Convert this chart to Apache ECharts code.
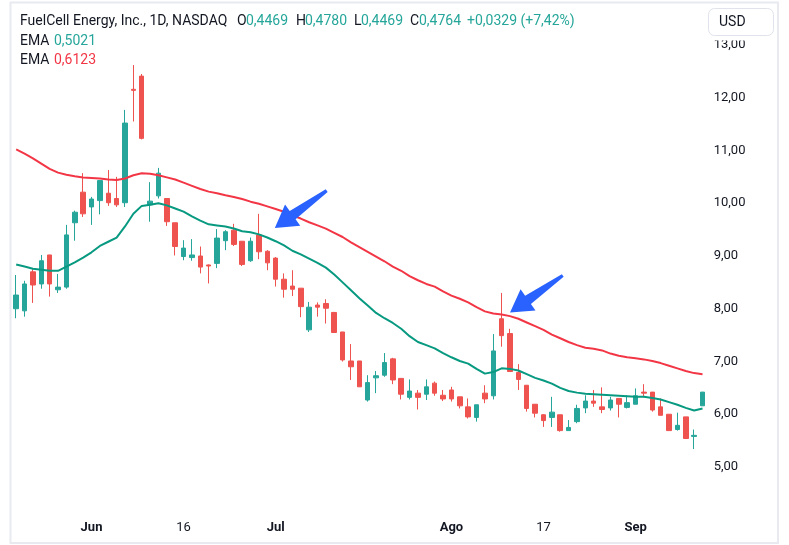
<!DOCTYPE html>
<html>
<head>
<meta charset="utf-8">
<script src="https://cdn.jsdelivr.net/npm/echarts@6/dist/echarts.min.js"></script>
<style>
  html, body { margin: 0; padding: 0; background: #fff; }
  #chart { width: 789px; height: 545px; }
</style>
</head>
<body>
<div id="chart"></div>
<script>
// daily candles
const opens = [8.00, 7.96, 8.70, 8.47, 9.02, 8.36, 8.41, 9.63, 10.21, 9.93,
  10.05, 10.19, 10.09, 10.01, 12.16, 12.41, 9.97, 10.14, 10.09, 9.63,
  8.99, 8.97, 9.00, 8.83, 8.86, 9.29, 9.49, 9.28, 8.91, 9.40,
  9.09, 8.96, 8.56, 8.43, 8.39, 7.60, 8.07, 8.10, 7.93, 7.56,
  7.01, 7.01, 6.27, 6.69, 6.74, 7.05, 6.68, 6.32, 6.40, 6.38,
  6.59, 6.36, 6.46, 6.33, 6.14, 5.94, 6.40, 6.35, 7.81, 7.53,
  6.79, 6.55, 6.19, 5.99, 5.94, 5.99, 5.69, 5.86, 6.12, 6.25,
  6.14, 6.12, 6.30, 6.13, 6.19, 6.42, 6.42, 6.14, 6.00, 5.71,
  5.95, 5.58, 6.16]
const closes = [8.26, 8.47, 8.45, 8.91, 8.47, 8.41, 9.40, 9.83, 9.80, 10.08,
  10.43, 10.01, 9.97, 11.52, 12.14, 11.23, 10.04, 10.57, 9.65, 9.18,
  9.15, 9.02, 8.79, 8.81, 9.34, 9.46, 9.22, 8.84, 9.28, 9.08,
  8.87, 8.56, 8.37, 8.37, 8.04, 8.03, 8.03, 8.01, 7.55, 7.03,
  6.90, 6.52, 6.60, 6.73, 6.98, 6.65, 6.38, 6.44, 6.32, 6.52,
  6.40, 6.29, 6.29, 6.16, 5.95, 6.18, 6.29, 7.20, 7.49, 6.81,
  6.66, 6.11, 6.02, 5.88, 6.04, 5.69, 5.75, 6.11, 6.25, 6.21,
  6.09, 6.27, 6.19, 6.22, 6.35, 6.40, 6.08, 5.98, 5.69, 5.79,
  5.54, 5.60, 6.42]
const lows = [7.82, 7.85, 8.11, 8.38, 8.23, 8.30, 8.38, 9.29, 9.74, 9.59,
  9.79, 9.95, 9.93, 9.93, 11.55, 11.21, 9.65, 10.09, 9.57, 9.01,
  8.92, 8.91, 8.67, 8.48, 8.77, 9.11, 9.19, 8.81, 8.89, 8.94,
  8.73, 8.42, 8.21, 8.24, 7.84, 7.56, 7.85, 7.72, 7.55, 7.00,
  6.65, 6.52, 6.24, 6.40, 6.71, 6.57, 6.28, 6.28, 6.09, 6.27,
  6.35, 6.25, 6.24, 6.11, 5.92, 5.86, 6.21, 6.28, 7.28, 6.81,
  6.46, 6.05, 5.94, 5.76, 5.76, 5.67, 5.69, 5.83, 6.02, 6.14,
  6.02, 6.07, 5.94, 6.11, 6.19, 6.32, 6.05, 5.98, 5.69, 5.69,
  5.54, 5.34, 6.16]
const highs = [8.64, 8.53, 8.75, 9.02, 9.02, 8.66, 9.59, 9.86, 10.57, 10.12,
  10.43, 10.63, 10.50, 11.77, 12.62, 12.45, 10.40, 10.67, 10.09, 9.63,
  9.30, 9.32, 9.18, 8.84, 9.51, 9.49, 9.61, 9.28, 9.35, 9.80,
  9.11, 8.98, 8.67, 8.73, 8.39, 8.13, 8.12, 8.18, 7.94, 7.56,
  7.33, 7.01, 6.74, 6.82, 7.16, 7.07, 6.68, 6.66, 6.46, 6.66,
  6.62, 6.46, 6.52, 6.33, 6.30, 6.18, 6.55, 7.52, 8.30, 7.62,
  6.95, 6.55, 6.19, 6.00, 6.33, 5.99, 5.89, 6.18, 6.36, 6.46,
  6.51, 6.33, 6.30, 6.36, 6.49, 6.57, 6.42, 6.30, 6.00, 6.03,
  5.95, 5.71, 6.42]

// the two EMA lines as drawn
const emaFast = [8.84, 8.80, 8.76, 8.74, 8.72, 8.72, 8.80, 8.88, 8.97, 9.07,
  9.19, 9.27, 9.35, 9.56, 9.80, 9.95, 9.97, 10.00, 9.96, 9.90,
  9.84, 9.75, 9.67, 9.60, 9.58, 9.56, 9.52, 9.47, 9.45, 9.41,
  9.35, 9.28, 9.20, 9.10, 9.03, 8.95, 8.87, 8.78, 8.65, 8.50,
  8.35, 8.20, 8.06, 7.92, 7.82, 7.73, 7.62, 7.48, 7.37, 7.31,
  7.25, 7.16, 7.08, 7.01, 6.96, 6.86, 6.77, 6.80, 6.87, 6.86,
  6.83, 6.76, 6.69, 6.64, 6.58, 6.50, 6.44, 6.41, 6.39, 6.38,
  6.37, 6.36, 6.35, 6.34, 6.33, 6.33, 6.31, 6.28, 6.23, 6.18,
  6.12, 6.07, 6.11]
const emaSlow = [11.02, 10.94, 10.85, 10.75, 10.65, 10.58, 10.54, 10.51, 10.49, 10.48,
  10.47, 10.45, 10.44, 10.47, 10.53, 10.57, 10.56, 10.53, 10.49, 10.45,
  10.39, 10.33, 10.27, 10.22, 10.19, 10.15, 10.12, 10.08, 10.03, 9.99,
  9.94, 9.89, 9.84, 9.77, 9.71, 9.64, 9.58, 9.52, 9.44, 9.36,
  9.26, 9.17, 9.08, 8.99, 8.90, 8.80, 8.72, 8.62, 8.54, 8.47,
  8.42, 8.33, 8.25, 8.19, 8.12, 8.03, 7.95, 7.91, 7.89, 7.86,
  7.81, 7.74, 7.67, 7.60, 7.51, 7.44, 7.37, 7.31, 7.26, 7.24,
  7.21, 7.15, 7.11, 7.08, 7.06, 7.04, 7.01, 6.97, 6.92, 6.87,
  6.82, 6.78, 6.76]

// time scale labels: bar index -> text
const tickIdx = [9, 20, 31, 52, 63, 74]
const tickText = ['Jun', '16', 'Jul', 'Ago', '17', 'Sep']
const monthTicks = ['Jun', 'Jul', 'Ago', 'Sep']

// drawn arrows, [bar index, price] of tail and tip
const arrowTails = [[37.1, 10.24], [65.3, 8.63]]
const arrowTips = [[30.9, 9.53], [59.0, 7.93]]

const UP = '#26a69a'
const DOWN = '#ef5350'
const EMA_FAST = '#089981'
const EMA_SLOW = '#f23645'
const TXT = '#131722'
const FONT = 'Roboto, "Liberation Sans", sans-serif'

const chart = echarts.init(document.getElementById('chart'))
const bars = opens.map((_, i) => i)
const candles = opens.map((o, i) => [o, closes[i], lows[i], highs[i]])
const comma = (v, d) => v.toFixed(d).replace('.', ',')

chart.setOption({
  animation: false,
  grid: { left: 12, right: 82.3, top: 0, bottom: 25.25 },
  xAxis: {
    type: 'category',
    data: bars,
    boundaryGap: true,
    axisLine: { show: false },
    axisTick: { show: false },
    splitLine: { show: false },
    axisLabel: {
      interval: (i) => tickIdx.includes(i),
      margin: 1,
      fontFamily: FONT,
      fontSize: 13,
      color: TXT,
      formatter: (v, i) => {
        const k = tickIdx.indexOf(i)
        if (k < 0) return ''
        const t = tickText[k]
        return monthTicks.includes(t) ? '{b|' + t + '}' : t
      },
      rich: { b: { fontWeight: 'bold', fontFamily: FONT, fontSize: 13, color: TXT } }
    }
  },
  yAxis: {
    type: 'value',
    position: 'right',
    min: 4,
    max: 13.853,
    interval: 1,
    axisLine: { show: false },
    axisTick: { show: false },
    splitLine: { show: false },
    axisLabel: {
      margin: 7,
      fontFamily: FONT,
      fontSize: 13,
      color: TXT,
      formatter: v => (v < 5 || v > 13 || Math.abs(v - Math.round(v)) > 1e-6) ? '' : comma(v, 2)
    }
  },
  series: [
    {
      type: 'candlestick',
      data: candles,
      barWidth: 5,
      itemStyle: {
        color: UP, color0: DOWN,
        borderColor: UP, borderColor0: DOWN,
        borderWidth: 1
      },
      z: 2
    },
    {
      type: 'line', data: emaSlow, showSymbol: false, silent: true,
      lineStyle: { color: EMA_SLOW, width: 2 }, z: 3
    },
    {
      type: 'line', data: emaFast, showSymbol: false, silent: true,
      lineStyle: { color: EMA_FAST, width: 2 }, z: 3
    }
  ]
})

// bar index (can be fractional) + price -> pixel
function toPx(idx, price) {
  const i0 = Math.floor(idx)
  const f = idx - i0
  const a = chart.convertToPixel({ gridIndex: 0 }, [i0, price])
  const b = chart.convertToPixel({ gridIndex: 0 }, [i0 + 1, price])
  return [a[0] + (b[0] - a[0]) * f, a[1]]
}

function arrowPoints(tail, tip) {
  const dx = tip[0] - tail[0], dy = tip[1] - tail[1]
  const len = Math.hypot(dx, dy)
  const ux = dx / len, uy = dy / len
  const nx = -uy, ny = ux
  const headLen = 22, headHalf = 13, neckHalf = 5, tailHalf = 1.6
  const hx = tip[0] - ux * headLen, hy = tip[1] - uy * headLen
  return [
    [tail[0] + nx * tailHalf, tail[1] + ny * tailHalf],
    [hx + nx * neckHalf, hy + ny * neckHalf],
    [hx + nx * headHalf, hy + ny * headHalf],
    tip,
    [hx - nx * headHalf, hy - ny * headHalf],
    [hx - nx * neckHalf, hy - ny * neckHalf],
    [tail[0] - nx * tailHalf, tail[1] - ny * tailHalf]
  ]
}

const arrows = arrowTips.map((tip, k) => ({
  type: 'polygon',
  z: 50,
  shape: { points: arrowPoints(toPx(arrowTails[k][0], arrowTails[k][1]), toPx(tip[0], tip[1])) },
  style: { fill: '#2962ff' }
}))

const txt = (x, y, text, fill) => ({
  type: 'text', x, y, z: 60,
  style: { text, fill, font: '14px ' + FONT, verticalAlign: 'middle' }
})

chart.setOption({
  graphic: [
    {
      type: 'rect', z: 40, silent: true,
      shape: { x: 10.5, y: 2.5, width: 767.5, height: 540.5 },
      style: { fill: 'none', stroke: '#e8eaef', lineWidth: 2 }
    },
    ...arrows,
    txt(20, 21, 'FuelCell Energy, Inc., 1D, NASDAQ', TXT),
    txt(237, 21, 'O', TXT), txt(246, 21, '0,4469', UP),
    txt(296, 21, 'H', TXT), txt(305, 21, '0,4780', UP),
    txt(354, 21, 'L', TXT), txt(361, 21, '0,4469', UP),
    txt(410, 21, 'C', TXT), txt(419, 21, '0,4764', UP),
    txt(467, 21, '+0,0329 (+7,42%)', UP),
    txt(20, 41, 'EMA', TXT), txt(54, 41, '0,5021', UP),
    txt(20, 60, 'EMA', TXT), txt(54, 60, '0,6123', EMA_SLOW),
    // the currency button masks the top of the price scale
    {
      type: 'rect', z: 54, silent: true,
      shape: { x: 706, y: 6, width: 70, height: 34.5 },
      style: { fill: '#ffffff' }
    },
    {
      type: 'rect', z: 55,
      shape: { x: 708.5, y: 8.5, width: 65, height: 27, r: 6 },
      style: { fill: '#ffffff', stroke: '#e0e3eb', lineWidth: 1 }
    },
    txt(719, 22, 'USD', TXT)
  ]
})
</script>
</body>
</html>
